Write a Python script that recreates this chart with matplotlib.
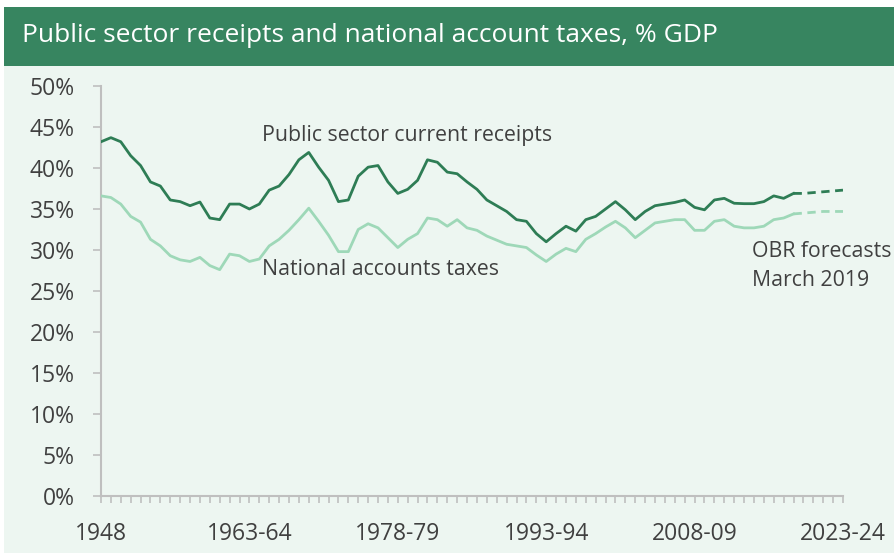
import matplotlib
matplotlib.use("Agg")
import matplotlib.pyplot as plt
from matplotlib.patches import Rectangle
import numpy as np

plt.rcParams['font.family'] = ['Open Sans', 'DejaVu Sans']

# Fiscal years 1948-49 .. 2023-24
first_year = 1948
n_years = 76
forecast_start = 70  # 2018-19 onwards are OBR forecasts

receipts = [43.2, 43.7, 43.2, 41.5, 40.3, 38.3, 37.8, 36.1, 35.9, 35.4,
            35.85, 33.9, 33.7, 35.6, 35.6, 35.0, 35.6, 37.3, 37.8, 39.2,
            41.0, 41.9, 40.1, 38.5, 35.9, 36.1, 39.0, 40.1, 40.3, 38.3,
            36.9, 37.4, 38.5, 41.0, 40.7, 39.5, 39.3, 38.3, 37.4, 36.1,
            35.4, 34.7, 33.7, 33.5, 32.0, 31.0, 32.0, 32.9, 32.3, 33.7,
            34.1, 35.0, 35.9, 34.9, 33.7, 34.7, 35.4, 35.6, 35.8, 36.1,
            35.2, 34.9, 36.1, 36.3, 35.7, 35.65, 35.65, 35.9, 36.6, 36.3,
            36.9, 36.9, 37.0, 37.1, 37.2, 37.3]

taxes = [36.6, 36.4, 35.6, 34.1, 33.4, 31.3, 30.5, 29.3, 28.8, 28.6,
         29.1, 28.1, 27.6, 29.5, 29.3, 28.6, 28.9, 30.5, 31.3, 32.4,
         33.7, 35.1, 33.5, 31.8, 29.8, 29.8, 32.5, 33.2, 32.7, 31.5,
         30.3, 31.3, 32.0, 33.9, 33.7, 32.9, 33.7, 32.7, 32.4, 31.7,
         31.2, 30.7, 30.5, 30.3, 29.4, 28.6, 29.5, 30.2, 29.8, 31.3,
         32.0, 32.8, 33.5, 32.7, 31.5, 32.4, 33.3, 33.5, 33.7, 33.7,
         32.4, 32.4, 33.5, 33.7, 32.9, 32.7, 32.7, 32.9, 33.7, 33.9,
         34.4, 34.5, 34.6, 34.7, 34.7, 34.7]

tick_labels = ["1948", "1963-64", "1978-79", "1993-94", "2008-09", "2023-24"]
tick_every = 15

title = "Public sector receipts and national account taxes, % GDP"

DARK = "#2E7D55"
LIGHT = "#9ED8B8"
BAR = "#378560"
PANEL = "#EDF6F1"
TEXT = "#404040"
AXIS = "#BFBFBF"

W, H = 895, 553
fig = plt.figure(figsize=(W / 100, H / 100), dpi=100)
fig.patch.set_facecolor("white")

# Light panel and title bar
fig.patches.append(Rectangle((4 / W, 0), 1 - 4 / W, 1 - 66 / H,
                             transform=fig.transFigure, facecolor=PANEL,
                             edgecolor="none", zorder=-10))
fig.patches.append(Rectangle((4 / W, 1 - 66 / H), 1 - 4 / W, 59 / H,
                             transform=fig.transFigure, facecolor=BAR,
                             edgecolor="none", zorder=-10))
fig.text(22 / W, 1 - 35 / H, title, color="white", fontsize=19,
         va="center", ha="left")

left, right, top, bottom = 101, 843, 86, 496
ax = fig.add_axes([left / W, 1 - bottom / H, (right - left) / W, (bottom - top) / H])
ax.set_zorder(5)
ax.set_facecolor("none")

x = np.arange(n_years)
r = np.array(receipts)
t = np.array(taxes)
f = forecast_start

ax.plot(x[:f + 1], t[:f + 1], color=LIGHT, lw=2.0, solid_joinstyle="round", zorder=3)
ax.plot(x[f:], t[f:], color=LIGHT, lw=2.0, ls=(0, (3, 2)), zorder=3)
ax.plot(x[:f + 1], r[:f + 1], color=DARK, lw=2.0, solid_joinstyle="round", zorder=4)
ax.plot(x[f:], r[f:], color=DARK, lw=2.0, ls=(0, (3, 2)), zorder=4)

ax.set_xlim(0, n_years - 1)
ax.set_ylim(0, 50)

ax.set_yticks(np.arange(0, 51, 5))
ax.set_yticklabels([f"{v}%" for v in range(0, 51, 5)])
ax.set_xticks(x, minor=True)
ax.set_xticks(np.arange(0, n_years, tick_every))
ax.set_xticklabels(tick_labels)

for s in ("top", "right"):
    ax.spines[s].set_visible(False)
for s in ("left", "bottom"):
    ax.spines[s].set_color(AXIS)
    ax.spines[s].set_linewidth(1.5)

ax.tick_params(axis="y", length=6, width=1.2, color=AXIS, labelcolor=TEXT,
               labelsize=16.5, pad=13)
ax.tick_params(axis="x", which="both", length=5, width=1.2, color=AXIS,
               labelcolor=TEXT, labelsize=16.5, pad=13.5, direction="out")

ax.text(16.3, 44.0, "Public sector current receipts", color=TEXT, fontsize=15.3,
        ha="left", va="center")
ax.text(16.3, 27.6, "National accounts taxes", color=TEXT, fontsize=15.3,
        ha="left", va="center")
ax.text(65.8, 28.0, "OBR forecasts\nMarch 2019", color=TEXT, fontsize=15.3,
        ha="left", va="center", linespacing=1.5)

fig.savefig("out.png", dpi=100, facecolor=fig.get_facecolor())
